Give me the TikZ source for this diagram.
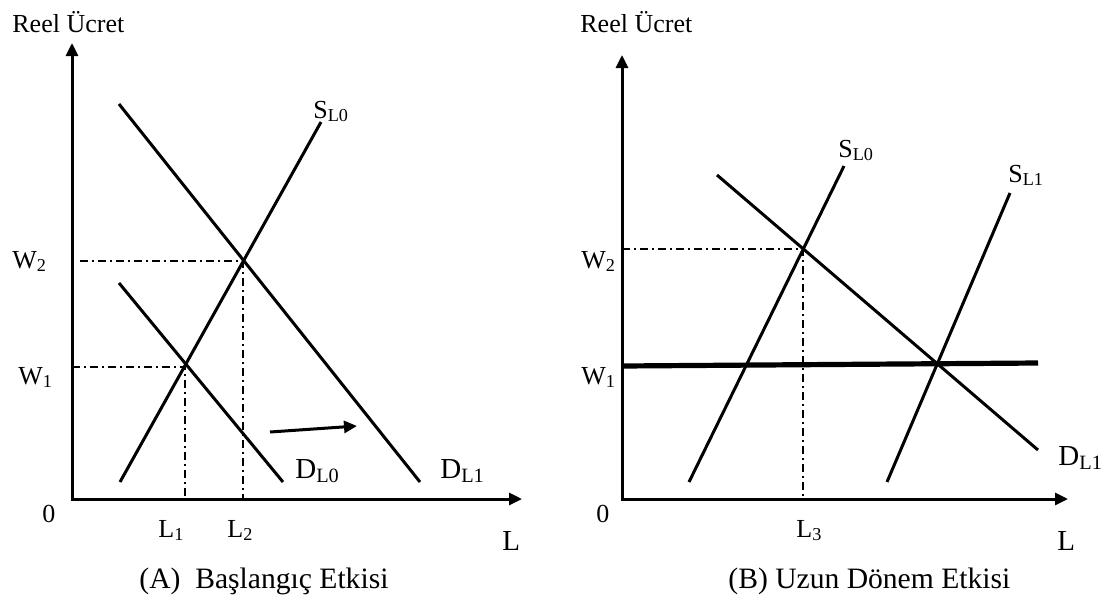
\documentclass[tikz,border=0pt]{standalone}
\usepackage{fontspec}
\setmainfont{Liberation Serif}
\usetikzlibrary{arrows.meta}

\begin{document}
\begin{tikzpicture}[x=0.5pt,y=-0.5pt,>={Triangle[length=6.5pt,width=6pt]},axis/.style={<->, line width=1.5pt},curve/.style={line width=1.5pt},wage/.style={line width=2.6pt},guide/.style={line width=0.7pt,dash pattern=on 4pt off 2pt on 1pt off 2pt},txt/.style={font=\fontsize{13pt}{16pt}\selectfont,inner sep=0pt,anchor=base west},big/.style={txt,font=\fontsize{14.5pt}{17pt}\selectfont},caption/.style={font=\fontsize{14.8pt}{18pt}\selectfont,inner sep=0pt,anchor=base west}]
\useasboundingbox (0,0) rectangle (1104,612);
\coordinate (Oa) at (72,499); \coordinate (Ya) at (72,43); \coordinate (Xa) at (522,499);
\coordinate (E1) at (185,367); \coordinate (E2) at (243,261);
\draw[axis] (Ya) -- (Oa) -- (Xa);
\draw[guide] (Oa |- E1) -- (E1) -- (E1 |- Oa); \draw[guide] (80,261) -- (E2) -- (E2 |- Oa);
\draw[curve] (120,482) -- (321,122); \draw[curve] (119,283) -- (283,482); \draw[curve] (119,104) -- (420,482);
\draw[->, line width=1.5pt] (270,432) -- (357,426);
\node[txt] (ya) at (12,32) {Reel Ücret}; \node[big] (xa) at (502,550) {L}; \node[txt] (oa) at (42,522) {0};
\node[txt] (wa2) at (12,268) {W\textsubscript{2}}; \node[txt] (wa1) at (18,384) {W\textsubscript{1}};
\node[txt] (la1) at (158,537) {L\textsubscript{1}}; \node[txt] (la2) at (227,537) {L\textsubscript{2}};
\node[txt] (sa0) at (313,118) {S\textsubscript{L0}};
\node[big] (da0) at (295,478) {D\textsubscript{L0}}; \node[big] (da1) at (440,478) {D\textsubscript{L1}};
\node[caption] (capa) at (139,588) {(A)\ \ Başlangıç Etkisi};
\coordinate (Ob) at (622,499); \coordinate (Yb) at (622,55); \coordinate (Xb) at (1068,499);
\coordinate (E3) at (803,249);
\draw[axis] (Yb) -- (Ob) -- (Xb);
\draw[guide] (Ob |- E3) -- (E3) -- (E3 |- Ob);
\draw[wage] (622,366) -- (1038,363);
\draw[curve] (689,482) -- (844,166); \draw[curve] (887,482) -- (1010,193); \draw[curve] (717,175) -- (1038,450);
\node[txt] (yb) at (580,32) {Reel Ücret}; \node[big] (xb) at (1057,550) {L}; \node[txt] (ob) at (596,522) {0};
\node[txt] (wb2) at (581,268) {W\textsubscript{2}}; \node[txt] (wb1) at (581,384) {W\textsubscript{1}};
\node[txt] (lb3) at (796,537) {L\textsubscript{3}};
\node[txt] (sb0) at (838,157) {S\textsubscript{L0}}; \node[txt] (sb1) at (1008,182) {S\textsubscript{L1}};
\node[big] (db1) at (1058,465) {D\textsubscript{L1}};
\node[caption] (capb) at (728,588) {(B) Uzun Dönem Etkisi};
\end{tikzpicture}
\end{document}
